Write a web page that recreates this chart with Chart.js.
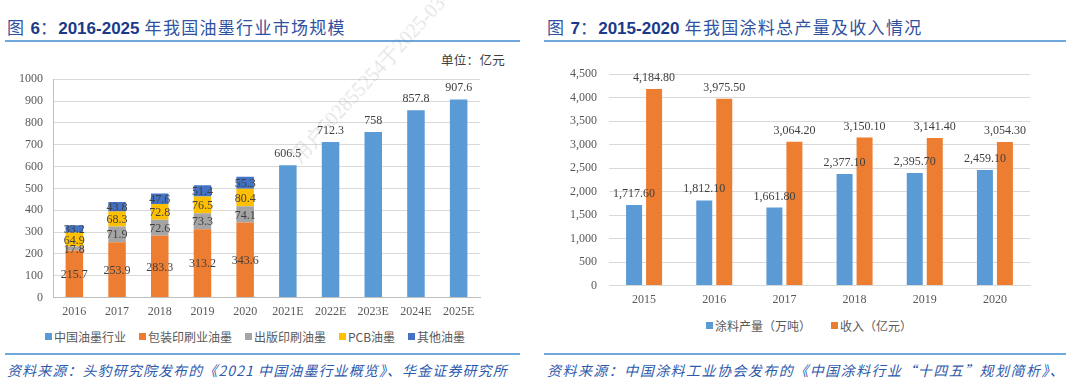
<!DOCTYPE html>
<html><head><meta charset="utf-8">
<script src="https://cdn.jsdelivr.net/npm/chart.js@4"></script>
<style>
body{margin:0;width:1066px;height:382px;background:#fff;position:relative;overflow:hidden;font-family:'Noto Sans CJK SC','Noto Sans',sans-serif}
.title{position:absolute;top:15px;font-size:17px;line-height:24px;color:#2F52A0;white-space:nowrap;letter-spacing:1.3px}
.title b{font-family:'Liberation Sans',Arial,sans-serif;font-weight:bold;color:#1B3A8A;letter-spacing:0}
.rule{position:absolute;height:2px;background:#6FA8DC}
.src{position:absolute;top:360px;font-size:14px;line-height:20px;font-style:italic;color:#2E5AAC;white-space:nowrap;letter-spacing:1.1px}
.unit{position:absolute;left:441px;top:50px;font-size:12.5px;color:#404040;font-family:'Noto Sans CJK SC',serif;letter-spacing:0.3px}
.wm{position:absolute;left:302px;top:146px;font-size:20px;line-height:20px;color:rgba(120,120,120,0.2);font-family:'Liberation Serif',serif;transform:rotate(-47.5deg);transform-origin:0 100%;white-space:nowrap}
.box{position:absolute}
.legend{position:absolute;display:flex;justify-content:center;align-items:center;white-space:nowrap;color:#595959;height:16px}
.legend .it{display:flex;align-items:center;margin:0 6.5px}
.legend .mk{width:7px;height:7px;margin-right:2px}
#lg2 .it{margin:0 10px}
</style>
</head><body>
<div class="title" style="left:7px">图 <b>6</b>：<b>2016-2025</b> 年我国油墨行业市场规模</div>
<div class="rule" style="left:5px;width:515px;top:40px"></div>
<div class="unit">单位：亿元</div>
<div class="box" style="left:0;top:62px;width:510px;height:266px"><canvas id="c1"></canvas></div>
<div class="legend" id="lg1" style="left:0;width:510px;top:328px;font-size:12px"></div>
<div class="rule" style="left:5px;width:515px;top:353px"></div>
<div class="src" style="left:7px">资料来源：头豹研究院发布的《2021 中国油墨行业概览》、华金证券研究所</div>

<div class="title" style="left:547px">图 <b>7</b>：<b>2015-2020</b> 年我国涂料总产量及收入情况</div>
<div class="rule" style="left:544px;width:522px;top:40px"></div>
<div class="box" style="left:540px;top:55px;width:526px;height:261px"><canvas id="c2"></canvas></div>
<div class="legend" id="lg2" style="left:546px;width:526px;top:317px;font-size:12px"></div>
<div class="rule" style="left:544px;width:522px;top:353px"></div>
<div class="src" style="left:547px;letter-spacing:1.45px">资料来源：中国涂料工业协会发布的《中国涂料行业“十四五”规划简析》、</div>

<div class="wm">用户502855254于2025-03-</div>

<script>
// ---- Chart 1 data ----
const inkYears = ['2016','2017','2018','2019','2020','2021E','2022E','2023E','2024E','2025E'];
const inkTotal = [null,null,null,null,null,606.5,712.3,758,857.8,907.6];
const inkPackaging = [215.7,253.9,283.3,313.2,343.6,null,null,null,null,null];
const inkPublishing = [17.8,71.9,72.6,73.3,74.1,null,null,null,null,null];
const inkPCB = [64.9,68.3,72.8,76.5,80.4,null,null,null,null,null];
const inkOther = [33.2,43.8,47.6,51.4,55.3,null,null,null,null,null];
const inkTicks = [0,100,200,300,400,500,600,700,800,900,1000];

// ---- Chart 2 data ----
const paintYears = ['2015','2016','2017','2018','2019','2020'];
const paintOutput = [1717.6,1812.1,1661.8,2377.1,2395.7,2459.1];
const paintRevenue = [4184.8,3975.5,3064.2,3150.1,3141.4,3054.3];
const paintTicks = [0,500,1000,1500,2000,2500,3000,3500,4000,4500];

const SERIF = "'Liberation Serif','Times New Roman',serif";
const TICK = '#595959', GRID = '#d9d9d9', LABEL = '#404040';

const labelPlugin = {
  id: 'vlabels',
  afterDatasetsDraw(chart, args, opts) {
    const ctx = chart.ctx;
    ctx.save();
    ctx.font = '12px ' + SERIF;
    ctx.fillStyle = LABEL;
    ctx.textAlign = 'center';
    chart.data.datasets.forEach((ds, i) => {
      const meta = chart.getDatasetMeta(i);
      if (meta.hidden) return;
      meta.data.forEach((el, j) => {
        const v = ds.data[j];
        if (v === null || v === undefined) return;
        const txt = opts.format(v);
        if (ds.labelInside) {
          ctx.textBaseline = 'middle';
          ctx.fillText(txt, el.x, (el.y + el.base) / 2 + 1);
        } else {
          ctx.textBaseline = 'alphabetic';
          ctx.fillText(txt, el.x, el.y - 8);
        }
      });
    });
    ctx.restore();
  }
};

function buildLegend(chart, id) {
  const box = document.getElementById(id);
  chart.data.datasets.forEach(ds => {
    const it = document.createElement('div'); it.className = 'it';
    const mk = document.createElement('span'); mk.className = 'mk'; mk.style.background = ds.backgroundColor;
    const tx = document.createElement('span'); tx.textContent = ds.label;
    it.appendChild(mk); it.appendChild(tx); box.appendChild(it);
  });
}

const c1 = new Chart(document.getElementById('c1'), {
  type: 'bar',
  data: {
    labels: inkYears,
    datasets: [
      { label: '中国油墨行业', data: inkTotal, backgroundColor: '#5B9BD5' },
      { label: '包装印刷业油墨', data: inkPackaging, backgroundColor: '#ED7D31', labelInside: true },
      { label: '出版印刷油墨', data: inkPublishing, backgroundColor: '#A5A5A5', labelInside: true },
      { label: 'PCB油墨', data: inkPCB, backgroundColor: '#FFC000', labelInside: true },
      { label: '其他油墨', data: inkOther, backgroundColor: '#4472C4', labelInside: true }
    ]
  },
  options: {
    responsive: true, maintainAspectRatio: false, animation: false,
    datasets: { bar: { categoryPercentage: 1, barPercentage: 0.41 } },
    layout: { padding: { top: 17, right: 30, left: 0, bottom: 2 } },
    scales: {
      x: { stacked: true, grid: { display: false, drawTicks: false }, border: { color: '#bfbfbf' },
           ticks: { color: TICK, font: { size: 12, family: SERIF }, padding: 7, maxRotation: 0 } },
      y: { stacked: true, min: 0, max: 1000,
           afterBuildTicks: s => { s.ticks = inkTicks.map(v => ({ value: v })); },
           afterFit: s => { s.width = 53; },
           grid: { color: GRID, drawTicks: false }, border: { display: true, color: '#bfbfbf' },
           ticks: { color: TICK, font: { size: 12, family: SERIF }, padding: 10, callback: v => String(v) } }
    },
    plugins: { legend: { display: false }, tooltip: { enabled: false },
               vlabels: { format: v => String(v) } }
  },
  plugins: [labelPlugin]
});
buildLegend(c1, 'lg1');

const c2 = new Chart(document.getElementById('c2'), {
  type: 'bar',
  data: {
    labels: paintYears,
    datasets: [
      { label: '涂料产量（万吨）', data: paintOutput, backgroundColor: '#5B9BD5' },
      { label: '收入（亿元）', data: paintRevenue, backgroundColor: '#ED7D31' }
    ]
  },
  options: {
    responsive: true, maintainAspectRatio: false, animation: false,
    datasets: { bar: { categoryPercentage: 0.57, barPercentage: 0.8 } },
    layout: { padding: { top: 17, right: 36, left: 0, bottom: 2 } },
    scales: {
      x: { grid: { display: false, drawTicks: false }, border: { color: GRID },
           ticks: { color: TICK, font: { size: 12, family: SERIF }, padding: 7 } },
      y: { min: 0, max: 4500,
           afterBuildTicks: s => { s.ticks = paintTicks.map(v => ({ value: v })); },
           afterFit: s => { s.width = 69; },
           grid: { color: GRID, drawTicks: false }, border: { display: false },
           ticks: { color: TICK, font: { size: 12, family: SERIF }, padding: 12,
                    callback: v => Number(v).toLocaleString('en-US') } }
    },
    plugins: { legend: { display: false }, tooltip: { enabled: false },
               vlabels: { format: v => v.toLocaleString('en-US', { minimumFractionDigits: 2, maximumFractionDigits: 2 }) } }
  },
  plugins: [labelPlugin]
});
buildLegend(c2, 'lg2');
</script>
</body></html>
